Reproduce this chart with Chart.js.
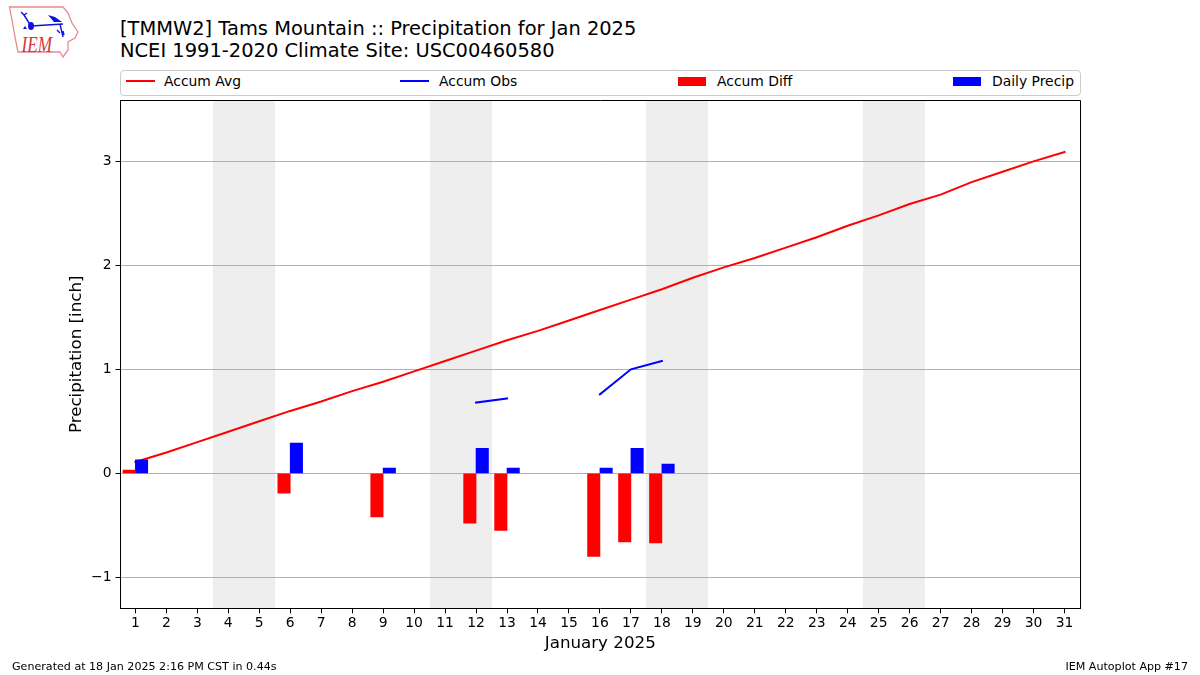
<!DOCTYPE html>
<html>
<head>
<meta charset="utf-8">
<title>Tams Mountain Precipitation</title>
<script src="https://cdn.jsdelivr.net/npm/chart.js@4"></script>
<style>
  html, body { margin: 0; padding: 0; background: #fff; }
  body { width: 1200px; height: 675px; position: relative; overflow: hidden;
         font-family: "DejaVu Sans", sans-serif; color: #000; }
  canvas { position: absolute; left: 0; top: 0; }
  #logo { position: absolute; left: 0; top: 0; }
  #title { position: absolute; left: 120px; top: 18px; font-size: 19.45px; line-height: 22px; white-space: pre; }
  #legend { position: absolute; left: 120px; top: 70px; width: 959px; height: 24px;
            border: 1px solid #ccc; border-radius: 4px; font-size: 13.9px; }
  #legend .item { position: absolute; top: 0; height: 24px; line-height: 21px; white-space: pre; }
  #legend .key { position: absolute; }
  #legend .label { position: absolute; top: 0; }
  .foot { position: absolute; top: 660px; font-size: 11.1px; line-height: 13px; white-space: pre; }
</style>
</head>
<body>
<svg id="logo" width="90" height="65" viewBox="0 0 90 65">
  <path d="M9.5 7 L63 7 L68 13 L72 23 L78 32 L75 38 L68 42 L68 50 L63 57 L60 52 L18 52 L15 37 L12 20 Z"
        fill="none" stroke="#e88a8e" stroke-width="1.3"/>
  <g stroke="#1010e0" fill="none" stroke-width="1.4">
    <path d="M31 26 L63 24"/>
    <path d="M31 26 L24 15 L21 12 M24 15 L27 13"/>
    <path d="M60 24 L63 37 M57 30 L60 33 M63 31 L64 35"/>
  </g>
  <ellipse cx="31" cy="26" rx="3" ry="4" fill="#1010e0"/>
  <path d="M48 15 L55 17 L62 22 L54 22 Z" fill="#1010e0"/>
  <path d="M23 29 L25 26 L27 29 Z" fill="#1010e0"/>
  <text transform="translate(21.5 52) scale(.86 1.13)" font-family="Liberation Serif, serif" font-style="italic" font-size="20" fill="#d8343c">IEM</text>
</svg>
<div id="title"></div>
<div id="legend"></div>
<canvas id="chart" width="1200" height="675"></canvas>
<div class="foot" id="footLeft" style="left:12px"></div>
<div class="foot" id="footRight" style="right:12px"></div>
<script>
'use strict';
/* global Chart */

// ─── Data ─────────────────────────────────────────────────────────────────────
const days = [1, 2, 3, 4, 5, 6, 7, 8, 9, 10, 11, 12, 13, 14, 15, 16,
  17, 18, 19, 20, 21, 22, 23, 24, 25, 26, 27, 28, 29, 30, 31];

const accumAvg = [0.11, 0.20, 0.30, 0.40, 0.50, 0.60, 0.69, 0.79, 0.88, 0.98, 1.08,
  1.18, 1.28, 1.37, 1.47, 1.57, 1.67, 1.77, 1.88, 1.98, 2.07,
  2.17, 2.27, 2.38, 2.48, 2.59, 2.68, 2.80, 2.90, 3.00, 3.09];

const accumObs = [null, null, null, null, null, null, null, null, null, null, null,
  0.68, 0.72, null, null, 0.76, 1.00, 1.08, null, null, null,
  null, null, null, null, null, null, null, null, null, null];

const accumDiff = [0.03, null, null, null, null, -0.19, null, null, -0.42, null, null,
  -0.48, -0.55, null, null, -0.80, -0.66, -0.67, null, null, null,
  null, null, null, null, null, null, null, null, null, null];

const dailyPrecip = [0.13, null, null, null, null, 0.29, null, null, 0.05, null, null,
  0.24, 0.05, null, null, 0.05, 0.24, 0.09, null, null, null,
  null, null, null, null, null, null, null, null, null, null];

const yTicks = [-1, 0, 1, 2, 3];

// weekends, shaded behind the grid
const weekendSpans = [[3.5, 5.5], [10.5, 12.5], [17.5, 19.5], [24.5, 26.5]];

const titleLines = [
  '[TMMW2] Tams Mountain :: Precipitation for Jan 2025',
  'NCEI 1991-2020 Climate Site: USC00460580',
];
const footLeftText  = 'Generated at 18 Jan 2025 2:16 PM CST in 0.44s';
const footRightText = 'IEM Autoplot App #17';

// ─── Static text ──────────────────────────────────────────────────────────────
document.getElementById('title').textContent     = titleLines.join('\n');
document.getElementById('footLeft').textContent  = footLeftText;
document.getElementById('footRight').textContent = footRightText;

// ─── Plugins ──────────────────────────────────────────────────────────────────
const weekendBands = {
  id: 'weekendBands',
  beforeDraw(chart) {
    const { ctx, chartArea, scales } = chart;
    ctx.save();
    ctx.fillStyle = '#eeeeee';
    weekendSpans.forEach(([from, to]) => {
      const x0 = Math.round(scales.x.getPixelForValue(from));
      const x1 = Math.round(scales.x.getPixelForValue(to));
      ctx.fillRect(x0, chartArea.top, x1 - x0, chartArea.bottom - chartArea.top);
    });
    ctx.restore();
  },
};

// top and right spines, the axes only give bottom and left
const frame = {
  id: 'frame',
  afterDraw(chart) {
    const { ctx, chartArea } = chart;
    ctx.save();
    ctx.strokeStyle = '#000';
    ctx.lineWidth = 1;
    ctx.beginPath();
    ctx.moveTo(Math.round(chartArea.left), Math.round(chartArea.top) + 0.5);
    ctx.lineTo(Math.round(chartArea.right) + 0.5, Math.round(chartArea.top) + 0.5);
    ctx.lineTo(Math.round(chartArea.right) + 0.5, Math.round(chartArea.bottom) + 0.5);
    ctx.stroke();
    ctx.restore();
  },
};

// ─── Chart ────────────────────────────────────────────────────────────────────
const font = { family: '"DejaVu Sans", sans-serif', size: 13.9 };

const chart = new Chart(document.getElementById('chart'), {
  type: 'bar',
  data: {
    labels: days,
    datasets: [
      {
        type: 'line', label: 'Accum Avg', data: accumAvg, order: 2,
        borderColor: '#ff0000', borderWidth: 2, pointRadius: 0, tension: 0,
        borderCapStyle: 'square',
      },
      {
        type: 'line', label: 'Accum Obs', data: accumObs, order: 2,
        borderColor: '#0000ff', borderWidth: 2, pointRadius: 0, tension: 0,
        borderCapStyle: 'square', spanGaps: false,
      },
      {
        label: 'Accum Diff', data: accumDiff, order: 1,
        backgroundColor: '#ff0000', barThickness: 12.4, borderWidth: 0,
      },
      {
        label: 'Daily Precip', data: dailyPrecip, order: 1,
        backgroundColor: '#0000ff', barThickness: 12.4, borderWidth: 0,
      },
    ],
  },
  options: {
    responsive: false,
    animation: false,
    layout: { padding: { left: 0, right: 120, top: 100.3, bottom: 0 } },
    plugins: { legend: { display: false }, title: { display: false }, tooltip: { enabled: false } },
    scales: {
      x: {
        type: 'linear', offset: false, min: 0.52, max: 31.5,
        // bar charts default the grid to offset, which puts ticks between the days
        grid: { display: true, offset: false, drawOnChartArea: false, drawTicks: true, tickLength: 5, tickColor: '#000' },
        border: { display: true, color: '#000', width: 1 },
        afterBuildTicks(scale) { scale.ticks = days.map((value) => ({ value })); },
        ticks: {
          color: '#000', font, padding: 2, maxRotation: 0, autoSkip: false,
          callback: (v) => String(v),
        },
        title: { display: true, text: 'January 2025', color: '#000', font: { ...font, size: 16.7 }, padding: { top: 0, bottom: 21 } },
        afterFit(scale) { scale.height = 66.7; },
      },
      y: {
        min: -1.298, max: 3.587,
        grid: { color: '#b0b0b0', lineWidth: 1, tickColor: '#000', tickLength: 5, drawTicks: true },
        border: { display: true, color: '#000', width: 1 },
        afterBuildTicks(scale) { scale.ticks = yTicks.map((value) => ({ value })); },
        ticks: {
          color: '#000', font, padding: 4,
          callback: (v) => String(v).replace('-', '\u2212'),
        },
        title: { display: true, text: 'Precipitation [inch]', color: '#000', font: { ...font, size: 16.7 }, padding: { top: 67, bottom: 0 } },
        afterFit(scale) { scale.width = 120.5; },
      },
    },
  },
  plugins: [weekendBands, frame],
});

// ─── Legend ───────────────────────────────────────────────────────────────────
// matplotlib "expand" style row: four items stretched across the box
const legendLefts = [5, 279, 557, 832];
const legendBox = document.getElementById('legend');
chart.data.datasets.forEach((ds, i) => {
  const item = document.createElement('div');
  item.className = 'item';
  item.style.left = legendLefts[i] + 'px';

  const key = document.createElement('div');
  key.className = 'key';
  if (ds.type === 'line') {
    key.style.cssText = `left:0;top:9px;width:29px;height:2px;background:${ds.borderColor}`;
  } else {
    key.style.cssText = `left:0;top:6px;width:28px;height:9px;background:${ds.backgroundColor}`;
  }

  const label = document.createElement('span');
  label.className = 'label';
  label.style.left = (i === 0 ? 38 : 39) + 'px';
  label.textContent = ds.label;

  item.appendChild(key);
  item.appendChild(label);
  legendBox.appendChild(item);
});
</script>
</body>
</html>
